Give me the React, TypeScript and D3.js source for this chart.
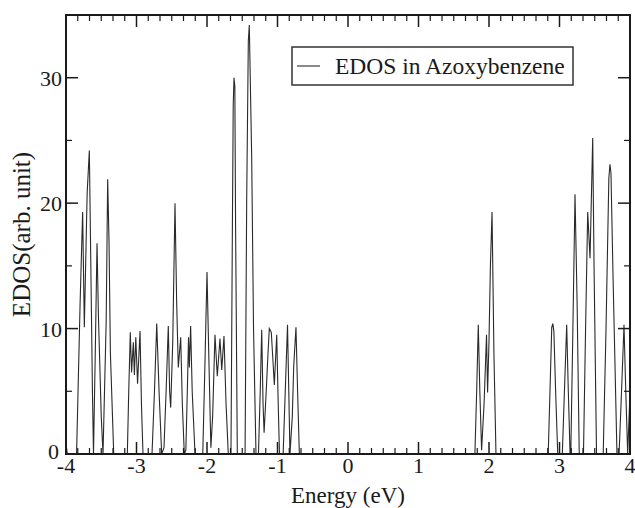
import * as d3 from "d3";

// EDOS curve (energy in eV, EDOS in arb. unit)
const energy = [
  -4.0, -3.98, -3.85, -3.8, -3.764, -3.74, -3.7, -3.669, -3.65, -3.625, -3.61,
  -3.585, -3.56, -3.54, -3.5, -3.475, -3.43, -3.409, -3.39, -3.37, -3.323,
  -3.13, -3.11, -3.088, -3.07, -3.045, -3.03, -3.01, -2.985, -2.95, -2.93, -2.908,
  -2.78, -2.745, -2.713, -2.68, -2.643, -2.61, -2.58, -2.549, -2.53, -2.515,
  -2.486, -2.454, -2.43, -2.407, -2.373, -2.35, -2.322, -2.3, -2.275, -2.262,
  -2.25, -2.232, -2.21, -2.17, -2.06, -2.03, -2.0, -1.975, -1.945, -1.92,
  -1.887, -1.854, -1.816, -1.791, -1.759, -1.73, -1.698, -1.66, -1.64, -1.628,
  -1.617, -1.605, -1.595, -1.57, -1.46, -1.437, -1.414, -1.4, -1.38, -1.366,
  -1.34, -1.305, -1.27, -1.245, -1.224, -1.205, -1.19, -1.16, -1.135, -1.116,
  -1.088, -1.06, -1.045, -1.011, -0.99, -0.972, -0.92, -0.89, -0.858, -0.84,
  -0.823, -0.79, -0.77, -0.738, -0.715, -0.69,
  1.8, 1.825, 1.848, 1.87, 1.895, 1.93, 1.965, 1.98, 2.0, 2.02, 2.043, 2.07, 2.099,
  2.84, 2.87, 2.89, 2.905, 2.92, 2.945, 2.975, 3.04, 3.07, 3.102, 3.125, 3.15,
  3.16, 3.19, 3.22, 3.25, 3.28, 3.34, 3.37, 3.4, 3.433, 3.471, 3.49, 3.525,
  3.62, 3.66, 3.7, 3.716, 3.73, 3.76, 3.815, 3.845, 3.88, 3.915, 3.94, 3.967, 4.0,
];
const edos = [
  0.8, 0, 0, 12, 19.3, 10.1, 20.8, 24.2, 16, 5, 0,
  8, 16.8, 11, 3, 0, 10.6, 21.9, 17, 8, 0,
  0, 5, 9.7, 6.5, 8.9, 6.3, 9.3, 5.6, 9.8, 4, 0,
  0, 5, 10.4, 5, 0, 0.5, 5, 10.2, 5, 3.7,
  8.9, 20.0, 12, 6.9, 9.3, 4, 0, 0.3, 6, 9.3,
  6.9, 10.2, 5, 0, 0, 7, 14.5, 8, 0.5, 3,
  9.5, 6.2, 9.2, 6.7, 9.4, 4, 0, 0, 18, 27.8,
  30.0, 29.3, 18.5, 0, 0, 20.3, 32.9, 34.2, 28, 23.6,
  10, 0, 0, 5, 9.9, 4, 1.7, 5, 8, 10.0,
  9.7, 7, 5.5, 9.5, 4, 0, 0, 5, 10.3, 5,
  0, 3, 7, 10.1, 5, 0,
  0, 5, 10.3, 5, 0.3, 4, 9.5, 4.9, 9, 15, 19.3, 8, 0,
  0, 6, 10.1, 10.4, 9.8, 5, 0, 0, 5, 10.3, 5, 0,
  0, 10, 20.7, 12, 0, 0, 10, 19.3, 15.6, 25.2, 15, 0,
  0, 10, 22.0, 23.1, 22.4, 14, 0, 0, 5, 10.3, 5, 0, 4.9,
];

const xTicks = [-4, -3, -2, -1, 0, 1, 2, 3, 4];
const yTicks = [0, 10, 20, 30];
const legendLabel = "EDOS in Azoxybenzene";

const W = 635;
const H = 508;
const left = 66;
const right = 630;
const top = 15;
const bottom = 454;
const font = "Liberation Serif, DejaVu Serif, serif";

export default function App() {
  const x = d3.scaleLinear().domain([-4, 4]).range([left, right]);
  const y = d3.scaleLinear().domain([0, 35]).range([bottom, top]);

  const pts: [number, number][] = energy.map((e, i) => [e, edos[i]]);
  const line = d3
    .line<[number, number]>()
    .x((d) => x(d[0]))
    .y((d) => y(d[1]));

  // minor ticks: 5 between x majors, every 5 on y
  const xMinor = d3.range(-4, 4.0001, 1 / 6).filter((v) => Math.abs(v - Math.round(v)) > 1e-6);
  const yMinor = [5, 15, 25];

  const major = 12;
  const minor = 6;
  const ink = "#1a1a1a";
  const txt = { fontFamily: font };

  return (
    <svg
      width={W}
      height={H}
      style={{ position: "absolute", left: 0, top: 0, background: "#fff" }}
    >
      {/* data */}
      <path d={line(pts) || ""} fill="none" stroke="#2a2a2a" strokeWidth={1.1} />

      {/* ticks on all four sides, pointing inward */}
      {xTicks.map((t) => (
        <g key={"xt" + t}>
          <line x1={x(t)} x2={x(t)} y1={bottom} y2={bottom - major} stroke={ink} strokeWidth={1.5} />
          <line x1={x(t)} x2={x(t)} y1={top} y2={top + major} stroke={ink} strokeWidth={1.5} />
        </g>
      ))}
      {xMinor.map((t, i) => (
        <g key={"xm" + i}>
          <line x1={x(t)} x2={x(t)} y1={bottom} y2={bottom - minor} stroke={ink} strokeWidth={1.2} />
          <line x1={x(t)} x2={x(t)} y1={top} y2={top + minor} stroke={ink} strokeWidth={1.2} />
        </g>
      ))}
      {yTicks.map((t) => (
        <g key={"yt" + t}>
          <line x1={left} x2={left + major} y1={y(t)} y2={y(t)} stroke={ink} strokeWidth={1.5} />
          <line x1={right} x2={right - major} y1={y(t)} y2={y(t)} stroke={ink} strokeWidth={1.5} />
        </g>
      ))}
      {yMinor.map((t) => (
        <g key={"ym" + t}>
          <line x1={left} x2={left + minor} y1={y(t)} y2={y(t)} stroke={ink} strokeWidth={1.2} />
          <line x1={right} x2={right - minor} y1={y(t)} y2={y(t)} stroke={ink} strokeWidth={1.2} />
        </g>
      ))}

      {/* frame */}
      <rect
        x={left}
        y={top}
        width={right - left}
        height={bottom - top}
        fill="none"
        stroke={ink}
        strokeWidth={2}
      />

      {/* tick labels */}
      {xTicks.map((t) => (
        <text
          key={"xl" + t}
          x={x(t)}
          y={bottom + 19}
          style={txt}
          fontSize={22}
          textAnchor="middle"
          fill={ink}
        >
          {t}
        </text>
      ))}
      {yTicks.map((t) => (
        <text
          key={"yl" + t}
          x={t === 0 ? left - 7 : left - 4}
          y={t === 0 ? y(t) + 5 : y(t) + 8}
          style={txt}
          fontSize={22}
          textAnchor="end"
          fill={ink}
        >
          {t}
        </text>
      ))}

      {/* axis titles */}
      <text
        x={(left + right) / 2}
        y={503}
        style={txt}
        fontSize={23}
        textAnchor="middle"
        fill={ink}
      >
        Energy (eV)
      </text>
      <text
        transform={`translate(30,${(top + bottom) / 2}) rotate(-90)`}
        style={txt}
        fontSize={25}
        textAnchor="middle"
        fill={ink}
      >
        EDOS(arb. unit)
      </text>

      {/* legend */}
      <rect x={292} y={47} width={281} height={38} fill="#fff" stroke="#333" strokeWidth={1.5} />
      <line x1={297} x2={320} y1={66} y2={66} stroke="#2a2a2a" strokeWidth={1.1} />
      <text x={335} y={74} style={txt} fontSize={23.5} fill={ink}>
        {legendLabel}
      </text>
    </svg>
  );
}
